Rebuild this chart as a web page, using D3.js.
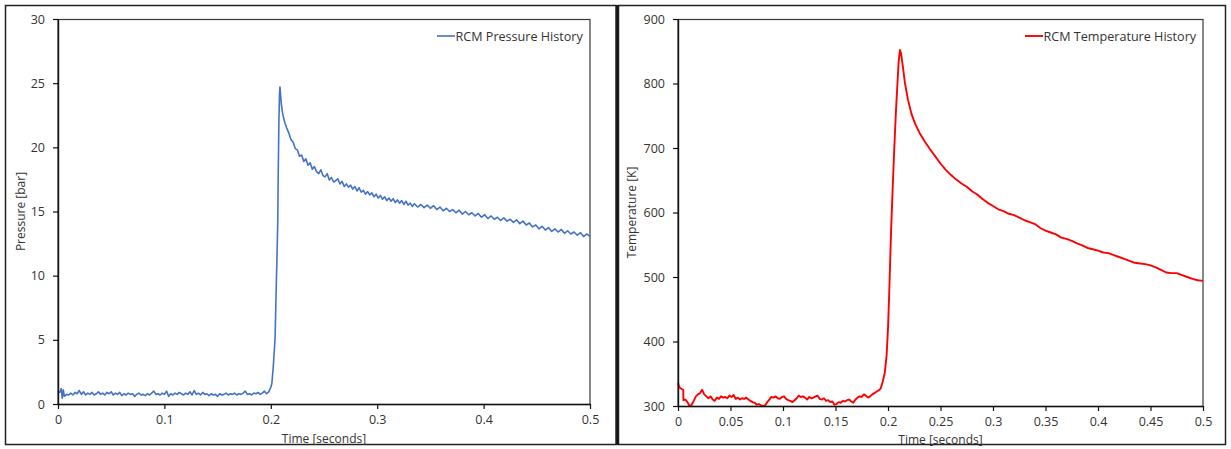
<!DOCTYPE html>
<html>
<head>
<meta charset="utf-8">
<script src="https://cdn.jsdelivr.net/npm/d3@7"></script>
<style>
  html, body { margin: 0; padding: 0; background: #fff; }
  svg { display: block; }
  text { font-family: "Open Sans", "Liberation Sans", sans-serif; fill: #333; }
</style>
</head>
<body>
<svg id="chart" width="1231" height="449"></svg>
<script>
// ---------------- DATA ----------------
const pressureXTicks = [0, 0.1, 0.2, 0.3, 0.4, 0.5];
const pressureXTickLabels = ["0", "0.1", "0.2", "0.3", "0.4", "0.5"];
const pressureYTicks = [0, 5, 10, 15, 20, 25, 30];
const pressureYTickLabels = ["0", "5", "10", "15", "20", "25", "30"];

const temperatureXTicks = [0, 0.05, 0.1, 0.15, 0.2, 0.25, 0.3, 0.35, 0.4, 0.45, 0.5];
const temperatureXTickLabels = ["0", "0.05", "0.1", "0.15", "0.2", "0.25", "0.3", "0.35", "0.4", "0.45", "0.5"];
const temperatureYTicks = [300, 400, 500, 600, 700, 800, 900];
const temperatureYTickLabels = ["300", "400", "500", "600", "700", "800", "900"];

const pressureSeriesName = "RCM Pressure History";
const temperatureSeriesName = "RCM Temperature History";

// [time s, pressure bar]
const pressureData = [
  [0,0.85],[0.002,0.95],[0.003,1.2],[0.004,0.45],[0.005,1.1],[0.006,0.6],[0.008,0.75],[0.010,0.7],
  [0.012,0.85],[0.014,0.7],[0.016,0.9],[0.018,0.8],[0.020,1.05],[0.022,0.75],[0.024,0.95],[0.026,0.7],
  [0.028,0.85],[0.030,0.75],[0.032,0.9],[0.034,0.7],[0.036,0.8],[0.038,0.95],[0.040,0.75],[0.042,0.85],
  [0.044,0.7],[0.046,0.9],[0.048,0.8],[0.050,0.95],[0.052,0.7],[0.054,0.85],[0.056,0.75],[0.058,0.9],
  [0.060,0.65],[0.062,0.8],[0.064,0.7],[0.066,0.85],[0.068,0.75],[0.070,0.8],[0.072,0.6],[0.074,0.75],
  [0.076,0.85],[0.078,0.7],[0.080,0.75],[0.082,0.65],[0.084,0.8],[0.086,0.7],[0.088,0.85],[0.090,1.0],
  [0.092,0.75],[0.094,0.8],[0.096,0.7],[0.098,0.85],[0.100,0.75],[0.102,1.0],[0.104,0.6],[0.106,0.8],
  [0.108,0.7],[0.110,0.85],[0.112,0.75],[0.114,0.9],[0.116,0.8],[0.118,0.7],[0.120,0.85],[0.122,0.75],
  [0.124,0.95],[0.126,0.7],[0.128,1.05],[0.130,0.75],[0.132,0.85],[0.134,0.7],[0.136,0.9],[0.138,0.75],
  [0.140,0.8],[0.142,0.65],[0.144,0.8],[0.146,0.7],[0.148,0.75],[0.150,0.6],[0.152,0.8],[0.154,0.7],
  [0.156,0.75],[0.158,0.85],[0.160,0.7],[0.162,0.8],[0.164,0.75],[0.166,0.85],[0.168,0.7],[0.170,0.8],
  [0.172,0.75],[0.174,0.85],[0.176,1.0],[0.178,0.75],[0.180,0.8],[0.182,0.7],[0.184,0.85],[0.186,0.8],
  [0.188,0.9],[0.190,0.75],[0.192,0.85],[0.194,1.0],[0.196,0.8],[0.198,0.95],
  [0.200,1.3],[0.201,1.6],[0.2024,3.0],[0.204,5.1],[0.205,8.7],[0.2058,11.4],[0.2065,14.0],[0.207,18.0],
  [0.2076,22.0],[0.2082,24.2],[0.2086,24.7],[0.2092,24.1],[0.210,23.3],[0.211,22.7],[0.212,22.3],
  [0.2133,21.9],[0.215,21.5],[0.217,21.1],[0.219,20.6],[0.221,20.4],[0.223,19.9],[0.225,19.8],
  [0.227,19.3],[0.229,19.4],[0.231,18.9],[0.233,19.1],[0.235,18.6],[0.237,18.8],[0.239,18.3],
  [0.241,18.5],[0.243,18.1],[0.245,17.95],[0.247,18.25],[0.249,17.8],[0.251,17.7],[0.253,17.95],
  [0.255,17.45],[0.257,17.65],[0.259,17.3],[0.261,17.4],[0.263,17.55],[0.265,17.15],[0.267,17.35],
  [0.269,16.95],[0.271,17.15],[0.273,16.9],[0.275,17.05],[0.277,16.75],[0.279,16.95],[0.281,16.6],
  [0.283,16.85],[0.285,16.5],[0.287,16.65],[0.289,16.35],[0.291,16.55],[0.293,16.3],[0.295,16.45],
  [0.297,16.15],[0.299,16.35],[0.301,16.05],[0.303,16.25],[0.305,15.95],[0.307,16.15],[0.309,15.85],
  [0.311,16.05],[0.313,15.8],[0.315,16.0],[0.317,15.7],[0.319,15.9],[0.321,15.65],[0.323,15.85],
  [0.325,15.55],[0.327,15.8],[0.329,15.5],[0.331,15.65],[0.333,15.4],[0.335,15.6],[0.338,15.35],
  [0.341,15.55],[0.344,15.3],[0.347,15.5],[0.350,15.25],[0.353,15.45],[0.356,15.15],[0.359,15.35],
  [0.362,15.05],[0.365,15.25],[0.368,15.0],[0.371,15.15],[0.374,14.9],[0.377,15.1],[0.380,14.8],
  [0.383,15.0],[0.386,14.75],[0.389,14.9],[0.392,14.65],[0.395,14.85],[0.398,14.55],[0.401,14.75],
  [0.404,14.45],[0.407,14.65],[0.410,14.4],[0.413,14.55],[0.416,14.3],[0.419,14.5],[0.422,14.25],
  [0.425,14.4],[0.428,14.15],[0.431,14.35],[0.434,14.05],[0.437,14.25],[0.440,13.95],[0.443,14.1],
  [0.446,13.8],[0.449,13.95],[0.452,13.65],[0.455,13.85],[0.458,13.55],[0.461,13.75],[0.464,13.45],
  [0.467,13.65],[0.470,13.4],[0.473,13.6],[0.476,13.3],[0.479,13.5],[0.482,13.25],[0.485,13.4],
  [0.488,13.15],[0.491,13.35],[0.494,13.05],[0.497,13.25],[0.500,13.05]
];

// [time s, temperature K]
const temperatureData = [
  [0,336],[0.001,330],[0.002,328],[0.004,326],[0.005,325],[0.0052,309],[0.007,310],[0.009,306],
  [0.011,300],[0.013,302],[0.015,308],[0.017,315],[0.019,318],[0.021,320],[0.023,325],[0.025,318],
  [0.027,315],[0.029,312],[0.031,315],[0.033,310],[0.035,308],[0.037,313],[0.039,311],[0.041,315],
  [0.043,313],[0.045,314],[0.047,312],[0.049,316],[0.051,314],[0.053,317],[0.055,311],[0.057,313],
  [0.059,310],[0.061,312],[0.063,311],[0.065,313],[0.067,310],[0.069,308],[0.071,306],[0.073,305],
  [0.075,302],[0.077,303],[0.079,301],[0.081,300],[0.083,301],[0.085,306],[0.087,310],[0.089,314],
  [0.091,313],[0.093,315],[0.095,312],[0.097,311],[0.099,314],[0.101,315],[0.103,311],[0.105,309],
  [0.107,308],[0.109,306],[0.111,309],[0.113,312],[0.115,316],[0.117,314],[0.119,315],[0.121,313],
  [0.123,310],[0.125,314],[0.127,312],[0.129,313],[0.131,315],[0.133,316],[0.135,311],[0.137,310],
  [0.139,312],[0.141,308],[0.143,309],[0.145,306],[0.147,307],[0.149,302],[0.151,303],[0.153,306],
  [0.155,305],[0.157,308],[0.159,307],[0.161,309],[0.163,310],[0.165,307],[0.167,305],[0.169,310],
  [0.171,313],[0.173,315],[0.175,314],[0.177,318],[0.179,316],[0.181,313],[0.183,315],[0.185,318],
  [0.187,320],[0.189,322],[0.191,324],[0.193,327],[0.195,338],[0.197,352],[0.1987,379],[0.2000,420],
  [0.2012,477],[0.2029,570],[0.2045,640],[0.206,700],[0.2075,755],[0.209,800],[0.2102,835],
  [0.2114,852],[0.2125,846],[0.214,828],[0.2162,800],[0.219,775],[0.2225,752],[0.226,737],
  [0.2305,722],[0.235,710],[0.240,698],[0.245,687],[0.250,676],[0.255,666],[0.260,658],
  [0.265,651],[0.270,645],[0.275,640],[0.280,633],[0.285,628],[0.290,621],[0.295,615],[0.300,610],
  [0.305,605],[0.310,602],[0.315,598],[0.320,596],[0.325,592],[0.330,588],[0.335,585],[0.340,582],
  [0.345,576],[0.350,572],[0.355,569],[0.360,566],[0.365,561],[0.370,559],[0.375,556],[0.380,552],
  [0.385,549],[0.390,545],[0.395,543],[0.400,541],[0.405,538],[0.410,537],[0.415,534],[0.420,531],
  [0.425,528],[0.430,525],[0.435,522],[0.440,521],[0.445,520],[0.450,518],[0.455,515],[0.460,511],
  [0.465,507],[0.470,506],[0.475,506],[0.480,503],[0.485,500],[0.490,497],[0.495,495],[0.500,494]
];

// ---------------- DRAWING ----------------
const svg = d3.select("#chart");

// outer panel frames
svg.append("rect").attr("x", 5.5).attr("y", 5.5).attr("width", 610.5).attr("height", 439)
  .attr("fill", "none").attr("stroke", "#222").attr("stroke-width", 1.5);
svg.append("rect").attr("x", 618.5).attr("y", 5.5).attr("width", 607).attr("height", 439)
  .attr("fill", "none").attr("stroke", "#222").attr("stroke-width", 1.5);
svg.append("line").attr("x1", 617.2).attr("x2", 617.2).attr("y1", 5).attr("y2", 445)
  .attr("stroke", "#111").attr("stroke-width", 2);

function drawPanel(cfg) {
  const g = svg.append("g");
  const x = d3.scaleLinear().domain(cfg.xDomain).range([cfg.left, cfg.right]);
  const y = d3.scaleLinear().domain(cfg.yDomain).range([cfg.bottom, cfg.top]);

  // plot area border
  g.append("rect")
    .attr("x", cfg.left).attr("y", cfg.top + 0.5)
    .attr("width", cfg.right - cfg.left).attr("height", cfg.bottom - cfg.top)
    .attr("fill", "none").attr("stroke", "#3a3a3a").attr("stroke-width", 1.2);

  // line
  const line = d3.line().x(d => x(d[0])).y(d => y(d[1]));
  g.append("path").datum(cfg.data)
    .attr("d", line).attr("fill", "none")
    .attr("stroke", cfg.color).attr("stroke-width", cfg.lineWidth)
    .attr("stroke-linejoin", "round");

  // x axis
  const xAxis = d3.axisBottom(x).tickValues(cfg.xTicks)
    .tickFormat((d, i) => cfg.xLabels[i]).tickSize(5).tickSizeOuter(0).tickPadding(6);
  const gx = g.append("g").attr("transform", `translate(0,${cfg.bottom})`).call(xAxis);
  gx.select(".domain").attr("stroke", "#111").attr("stroke-width", 1.4);
  gx.selectAll(".tick line").attr("stroke", "#111").attr("stroke-width", 1.2);
  gx.selectAll(".tick text").attr("font-size", 12.5).attr("fill", "#333")
    .attr("font-family", "'Open Sans', sans-serif");

  // y axis
  const yAxis = d3.axisLeft(y).tickValues(cfg.yTicks)
    .tickFormat((d, i) => cfg.yLabels[i]).tickSize(5).tickSizeOuter(0).tickPadding(8);
  const gy = g.append("g").attr("transform", `translate(${cfg.left},0)`).call(yAxis);
  gy.select(".domain").attr("stroke", "#111").attr("stroke-width", 1.4);
  gy.selectAll(".tick line").attr("stroke", "#111").attr("stroke-width", 1.2);
  gy.selectAll(".tick text").attr("font-size", 12.5).attr("fill", "#333")
    .attr("font-family", "'Open Sans', sans-serif");

  // axis titles
  g.append("text")
    .attr("x", (cfg.left + cfg.right) / 2).attr("y", cfg.xTitleY)
    .attr("text-anchor", "middle").attr("font-size", 12).text(cfg.xTitle);
  g.append("text")
    .attr("transform", `translate(${cfg.yTitleX},${(cfg.top + cfg.bottom) / 2}) rotate(-90)`)
    .attr("text-anchor", "middle").attr("font-size", 12).text(cfg.yTitle);

  // legend
  g.append("line")
    .attr("x1", cfg.legendX).attr("x2", cfg.legendX + 18)
    .attr("y1", 36).attr("y2", 36)
    .attr("stroke", cfg.color).attr("stroke-width", cfg.lineWidth);
  g.append("text")
    .attr("x", cfg.legendX + 18.5).attr("y", 40.5)
    .attr("font-size", 12.6).text(cfg.seriesName);
}

drawPanel({
  data: pressureData, color: "#4472C4", lineWidth: 1.6,
  xDomain: [0, 0.5], yDomain: [0, 30],
  left: 58, right: 590, top: 19, bottom: 404,
  xTicks: pressureXTicks, xLabels: pressureXTickLabels,
  yTicks: pressureYTicks, yLabels: pressureYTickLabels,
  xTitle: "Time [seconds]", yTitle: "Pressure [bar]",
  xTitleY: 443, yTitleX: 25,
  legendX: 437, seriesName: pressureSeriesName
});

drawPanel({
  data: temperatureData, color: "#FF0000", lineWidth: 1.9,
  xDomain: [0, 0.5], yDomain: [300, 900],
  left: 678, right: 1203, top: 19, bottom: 406,
  xTicks: temperatureXTicks, xLabels: temperatureXTickLabels,
  yTicks: temperatureYTicks, yLabels: temperatureYTickLabels,
  xTitle: "Time [seconds]", yTitle: "Temperature [K]",
  xTitleY: 444, yTitleX: 636,
  legendX: 1025, seriesName: temperatureSeriesName
});
</script>
</body>
</html>
